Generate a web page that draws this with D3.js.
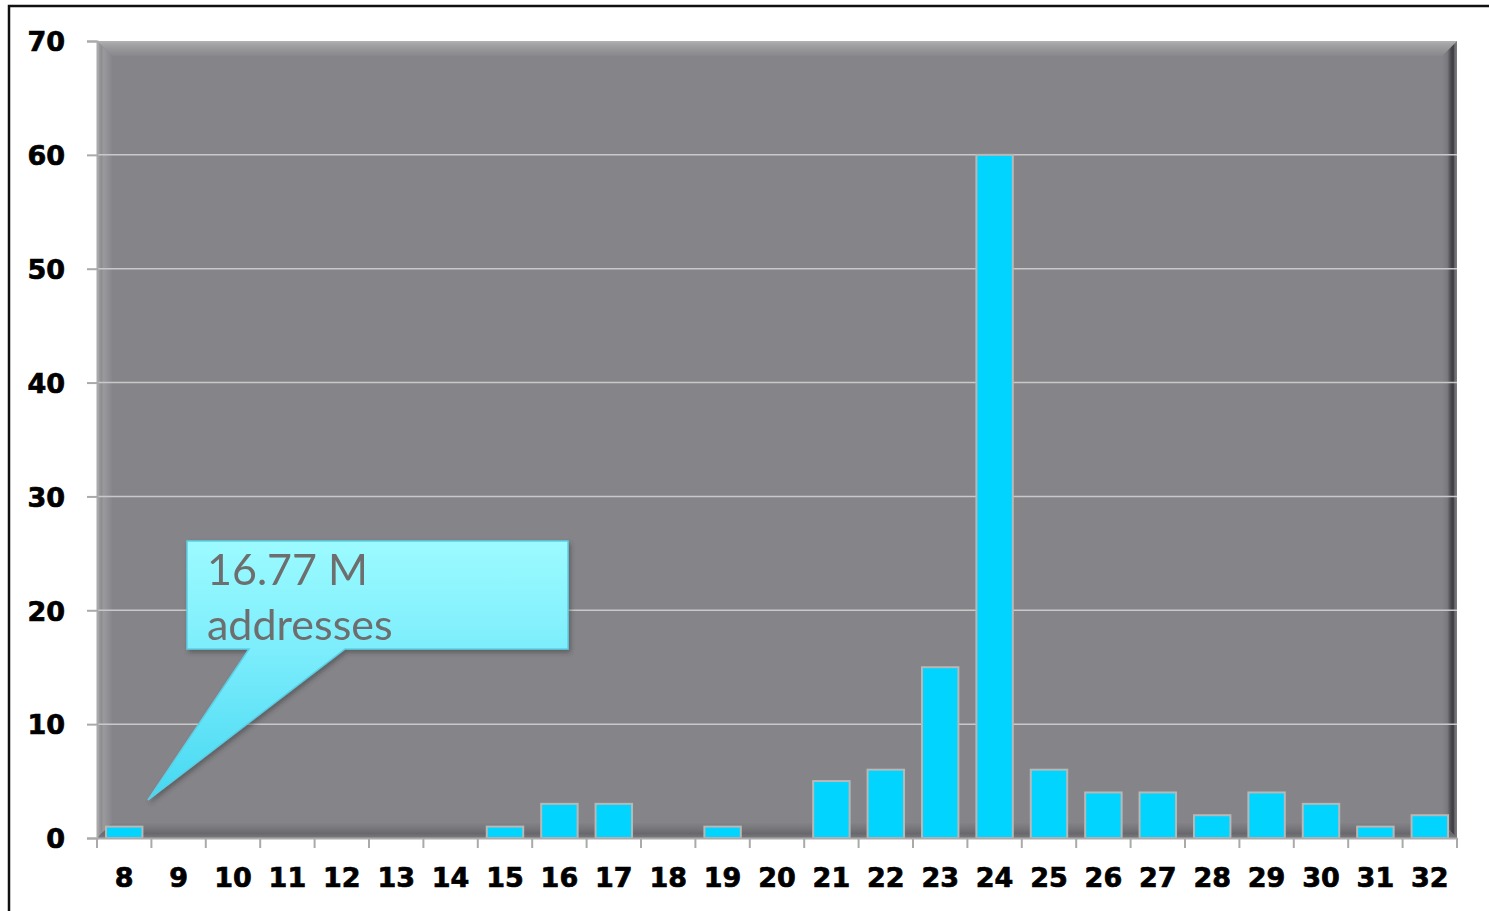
<!DOCTYPE html>
<html>
<head>
<meta charset="utf-8">
<script src="https://cdn.jsdelivr.net/npm/d3@7"></script>
<style>
  body { margin: 0; background: #fff; }
  svg { display: block; }
</style>
</head>
<body>
<div id="chart"></div>
<script>
// prefix lengths and how many entries each has
var categories = ["8","9","10","11","12","13","14","15","16","17","18","19","20",
                  "21","22","23","24","25","26","27","28","29","30","31","32"];
var counts = [1,0,0,0,0,0,0,1,3,3,0,1,0,5,6,15,60,6,4,4,2,4,3,1,2];
var yTicks = [0,10,20,30,40,50,60,70];
var calloutLines = ["16.77 M", "addresses"];

var W = 1489, H = 911;
var margin = {left: 97, right: 32, top: 41, bottom: 73};

var svg = d3.select("#chart").append("svg")
  .attr("width", W).attr("height", H);

var x = d3.scaleBand().domain(categories)
  .range([margin.left, W - margin.right])
  .paddingInner(0.33).paddingOuter(0.165);
var xt = d3.scaleBand().domain(categories)
  .range([margin.left, W - margin.right]);
var y = d3.scaleLinear().domain([0, 70])
  .range([H - margin.bottom, margin.top]);

var x0 = margin.left, x1 = W - margin.right, y0 = margin.top, y1 = H - margin.bottom;
var b = 15;

////////////////////
// gradients
var defs = svg.append("defs");
function grad(id, vertical, stops) {
  var g = defs.append("linearGradient").attr("id", id)
    .attr("x1", 0).attr("y1", 0).attr("x2", vertical ? 0 : 1).attr("y2", vertical ? 1 : 0);
  stops.forEach(function(s) { g.append("stop").attr("offset", s[0]).attr("stop-color", s[1]); });
}
grad("callout", true, [["0%", "#9cfbff"], ["40%", "#7eeefc"], ["100%", "#45d8f2"]]);
grad("bvTop", true, [["0%", "#b2b2b4"], ["25%", "#a2a2a5"], ["60%", "#959598"], ["100%", "#88878c"]]);
grad("bvLeft", false, [["0%", "#a6a6a8"], ["30%", "#8e8e92"], ["45%", "#9a9a9d"], ["100%", "#87868b"]]);
grad("bvRight", false, [["0%", "#85848a"], ["35%", "#7a7a7e"], ["60%", "#4a4a4e"], ["75%", "#3c3c40"], ["85%", "#6a6a6e"], ["100%", "#7e7e82"]]);
grad("bvBottom", true, [["0%", "#838287"], ["40%", "#76767a"], ["70%", "#69696d"], ["100%", "#7a7a7e"]]);
var sh = defs.append("filter").attr("id", "shadow").attr("x", "-10%").attr("y", "-10%").attr("width", "130%").attr("height", "130%");
sh.append("feDropShadow").attr("dx", 2).attr("dy", 3).attr("stdDeviation", 2).attr("flood-color", "#333").attr("flood-opacity", 0.45);

////////////////////
// plot area with bevel
svg.append("rect").attr("x", x0).attr("y", y0).attr("width", x1 - x0).attr("height", y1 - y0).attr("fill", "#858489");
var bevel = svg.append("g");
bevel.append("polygon").attr("points", [[x0,y0],[x0+b,y0+b],[x0+b,y1-b],[x0,y1]].join(" ")).attr("fill", "url(#bvLeft)");
bevel.append("polygon").attr("points", [[x1,y0],[x1,y1],[x1-b,y1-b],[x1-b,y0+b]].join(" ")).attr("fill", "url(#bvRight)");
bevel.append("polygon").attr("points", [[x0,y1],[x1,y1],[x1-b,y1-b],[x0+b,y1-b]].join(" ")).attr("fill", "url(#bvBottom)");
bevel.append("polygon").attr("points", [[x0,y0],[x1,y0],[x1-b,y0+b],[x0+b,y0+b]].join(" ")).attr("fill", "url(#bvTop)");

// grid lines
svg.append("g").selectAll("line").data(yTicks.filter(function(d) { return d > 0 && d < 70; }))
  .enter().append("line")
  .attr("x1", x0).attr("x2", x1)
  .attr("y1", function(d) { return y(d); }).attr("y2", function(d) { return y(d); })
  .attr("stroke", "#c9c9cb").attr("stroke-width", 1.5);

////////////////////
// bars
svg.append("g").selectAll("rect")
  .data(counts.map(function(v, i) { return {k: categories[i], v: v}; }).filter(function(d) { return d.v > 0; }))
  .enter().append("rect")
  .attr("x", function(d) { return x(d.k); })
  .attr("width", x.bandwidth())
  .attr("y", function(d) { return y(d.v); })
  .attr("height", function(d) { return y(0) - y(d.v); })
  .attr("fill", "#00d4ff")
  .attr("stroke", "#b8b8b8").attr("stroke-width", 2);

////////////////////
// axes
var yAxis = svg.append("g").attr("transform", "translate(" + x0 + ",0)")
  .call(d3.axisLeft(y).tickValues(yTicks).tickSize(10).tickPadding(22));
var xAxis = svg.append("g").attr("transform", "translate(0," + y1 + ")")
  .call(d3.axisBottom(xt).tickSize(0).tickPadding(30));
xAxis.selectAll(".tick line").remove();
xAxis.append("g").selectAll("line").data(categories.concat(["end"])).enter().append("line")
  .attr("x1", function(d, i) { return xt.range()[0] + i * xt.step(); })
  .attr("x2", function(d, i) { return xt.range()[0] + i * xt.step(); })
  .attr("y1", 0).attr("y2", 10);
[yAxis, xAxis].forEach(function(a) {
  a.selectAll("path.domain").attr("stroke", "#aaaaaa").attr("stroke-width", 2);
  a.selectAll("line").attr("stroke", "#aaaaaa").attr("stroke-width", 2);
  a.selectAll("text").attr("fill", "#000").attr("stroke", "#000").attr("stroke-width", 0.7)
    .style("font-family", "'DejaVu Sans', sans-serif").style("font-weight", "bold").style("font-size", "27px");
});
yAxis.selectAll("text").attr("dy", "0.36em");

////////////////////
// callout
var cx = 187, cy = 541, cw = 381, ch = 108;
var tip = [148, 800];
var callout = svg.append("g").attr("filter", "url(#shadow)");
callout.append("path")
  .attr("d", "M" + cx + "," + cy + "H" + (cx + cw) + "V" + (cy + ch) + "H345L" + tip[0] + "," + tip[1] + "L249," + (cy + ch) + "H" + cx + "Z")
  .attr("fill", "url(#callout)")
  .attr("stroke", "#5dcfe6").attr("stroke-width", 1.5);
callout.selectAll("text").data(calloutLines).enter().append("text")
  .attr("x", 207)
  .attr("y", function(d, i) { return 585 + i * 55; })
  .text(function(d) { return d; })
  .attr("fill", "#6e6e6e")
  .style("font-family", "Lato, 'Open Sans', sans-serif")
  .style("font-size", "43px");

// page frame
svg.append("path").attr("d", "M9," + H + "V6H" + W)
  .attr("fill", "none").attr("stroke", "#111").attr("stroke-width", 2.5);
</script>
</body>
</html>
